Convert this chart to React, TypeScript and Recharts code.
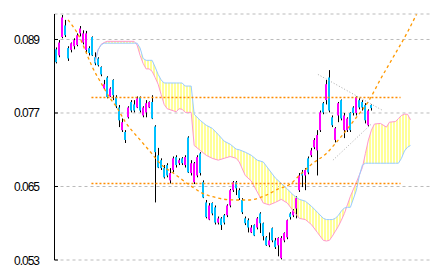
import {
  ComposedChart,
  Bar,
  Line,
  Area,
  XAxis,
  YAxis,
  CartesianGrid,
  ReferenceLine,
} from 'recharts';

// candles, one per period (price values)
const candleOpen = [
  0.0874, 0.0864, 0.0894, 0.0913, 0.0876, 0.0873, 0.0879, 0.0881, 0.09, 0.0885,
  0.0873, 0.0876, 0.0894, 0.0861, 0.0859, 0.0845, 0.081, 0.0828, 0.0797, 0.0824,
  0.0796, 0.0779, 0.0742, 0.0739, 0.0763, 0.0788, 0.0784, 0.0779, 0.0796, 0.0766,
  0.0771, 0.0779, 0.0788, 0.0748, 0.0701, 0.0693, 0.068, 0.0685, 0.066, 0.0677,
  0.0698, 0.0688, 0.0696, 0.0685, 0.073, 0.0672, 0.0657, 0.0668, 0.0704, 0.0657,
  0.0624, 0.0596, 0.0623, 0.0616, 0.0591, 0.0598, 0.0603, 0.0603, 0.0619, 0.0644,
  0.0657, 0.0644, 0.0628, 0.0598, 0.0595, 0.0575, 0.0587, 0.0583, 0.0606, 0.059,
  0.0567, 0.0554, 0.0582, 0.0562, 0.0554, 0.0533, 0.0562, 0.0567, 0.0606, 0.0603,
  0.0614, 0.0644, 0.0673, 0.0668, 0.0696, 0.0701, 0.0714, 0.0709, 0.0742, 0.0786,
  0.0791, 0.0828, 0.0763, 0.0726, 0.0766, 0.0791, 0.0742, 0.0742, 0.077, 0.0779,
  0.077, 0.0791, 0.0788, 0.0783, 0.075, 0.0783,
];
const candleClose = [
  0.0853, 0.0885, 0.0926, 0.0897, 0.0859, 0.0884, 0.0889, 0.0897, 0.0908, 0.09,
  0.09, 0.0868, 0.0864, 0.0851, 0.0848, 0.0833, 0.0817, 0.0796, 0.081, 0.0799,
  0.0781, 0.0758, 0.0755, 0.0726, 0.0779, 0.0774, 0.0774, 0.0794, 0.0774, 0.0779,
  0.0786, 0.0788, 0.0761, 0.0706, 0.0681, 0.068, 0.0665, 0.0668, 0.0672, 0.0696,
  0.0685, 0.0693, 0.0688, 0.0698, 0.0673, 0.0688, 0.0688, 0.0698, 0.0672, 0.0632,
  0.06, 0.0619, 0.0606, 0.0591, 0.0598, 0.0587, 0.0591, 0.0619, 0.0644, 0.0657,
  0.0647, 0.0631, 0.0608, 0.059, 0.0583, 0.0583, 0.057, 0.0598, 0.059, 0.0569,
  0.0554, 0.0562, 0.0562, 0.0551, 0.0566, 0.0566, 0.0574, 0.0595, 0.06, 0.0611,
  0.0631, 0.0668, 0.0668, 0.0677, 0.0673, 0.0709, 0.0726, 0.0734, 0.0771, 0.0771,
  0.0817, 0.0774, 0.075, 0.0745, 0.0786, 0.0761, 0.0766, 0.0761, 0.0742, 0.077,
  0.0796, 0.0779, 0.0779, 0.0758, 0.0774, 0.0778,
];
const candleHigh = [
  0.0877, 0.0889, 0.093, 0.0922, 0.0879, 0.0885, 0.0892, 0.09, 0.0912, 0.0905,
  0.0904, 0.0879, 0.0895, 0.0869, 0.0861, 0.0846, 0.0824, 0.083, 0.0812, 0.0825,
  0.0799, 0.0783, 0.0761, 0.0742, 0.0781, 0.0791, 0.0791, 0.0797, 0.0797, 0.0781,
  0.0791, 0.0789, 0.0799, 0.075, 0.0713, 0.0696, 0.0685, 0.0688, 0.068, 0.0699,
  0.0701, 0.0696, 0.0698, 0.0701, 0.0732, 0.0693, 0.069, 0.0701, 0.0706, 0.066,
  0.0628, 0.0623, 0.0624, 0.0619, 0.0601, 0.06, 0.0605, 0.0621, 0.0646, 0.0659,
  0.0659, 0.0647, 0.0631, 0.0601, 0.0598, 0.0587, 0.0588, 0.06, 0.0608, 0.0591,
  0.0569, 0.0575, 0.0583, 0.0566, 0.0567, 0.0569, 0.0575, 0.0596, 0.0608, 0.0613,
  0.0634, 0.0672, 0.0677, 0.068, 0.0699, 0.0713, 0.0729, 0.0742, 0.0774, 0.0788,
  0.0824, 0.084, 0.0766, 0.0747, 0.0788, 0.0792, 0.077, 0.0763, 0.0771, 0.0781,
  0.0797, 0.0794, 0.0791, 0.0786, 0.0776, 0.0784,
];
const candleLow = [
  0.0851, 0.0861, 0.0892, 0.0894, 0.0855, 0.0869, 0.0874, 0.0879, 0.0895, 0.0882,
  0.0869, 0.0864, 0.0863, 0.0848, 0.0846, 0.083, 0.0809, 0.0794, 0.0796, 0.0791,
  0.0778, 0.0747, 0.0739, 0.0721, 0.0761, 0.0771, 0.0771, 0.0778, 0.0771, 0.0763,
  0.0763, 0.0778, 0.076, 0.0624, 0.068, 0.0677, 0.0663, 0.0665, 0.0655, 0.0673,
  0.0681, 0.0685, 0.0685, 0.0681, 0.0672, 0.0668, 0.0654, 0.0665, 0.0668, 0.0631,
  0.0598, 0.0595, 0.0603, 0.0588, 0.0588, 0.0579, 0.0588, 0.06, 0.0616, 0.0641,
  0.0636, 0.0628, 0.0605, 0.0587, 0.0575, 0.0574, 0.0569, 0.058, 0.0574, 0.0562,
  0.0553, 0.0551, 0.0559, 0.0548, 0.0536, 0.0531, 0.0559, 0.0564, 0.0596, 0.06,
  0.0598, 0.0641, 0.0649, 0.0644, 0.067, 0.0698, 0.0711, 0.0668, 0.0739, 0.0768,
  0.0784, 0.0771, 0.0747, 0.0722, 0.0755, 0.0758, 0.0729, 0.0739, 0.0739, 0.0766,
  0.0766, 0.0776, 0.0774, 0.0753, 0.0748, 0.0774,
];

// cloud (leading spans), period index -> value
const cloudIdx = [
  13, 14, 15, 16, 17, 26, 27, 28, 29, 30, 31, 32, 33, 34, 35, 36, 37, 40, 41, 42,
  43, 45, 46, 48, 50, 52, 54, 56, 58, 60, 61, 63, 65, 67, 69, 71, 73, 75, 77, 79,
  81, 83, 85, 87, 89, 90, 91, 92, 93, 94, 95, 96, 97, 98, 100, 101, 102, 103, 104, 105,
  106, 108, 110, 111, 113, 114, 115, 116, 117, 118,
];
const spanA = [
  0.0853, 0.0873, 0.0881, 0.0884, 0.0884, 0.0884, 0.0884, 0.0876, 0.0859, 0.0856,
  0.0856, 0.0856, 0.0845, 0.0833, 0.0824, 0.0819, 0.0819, 0.0819, 0.0819, 0.0819,
  0.0814, 0.0814, 0.0768, 0.0758, 0.075, 0.0745, 0.0735, 0.0724, 0.0719, 0.0711,
  0.071, 0.0706, 0.0701, 0.0693, 0.069, 0.0677, 0.0664, 0.0655, 0.0646, 0.0636,
  0.0629, 0.0626, 0.0618, 0.0608, 0.0598, 0.0596, 0.0596, 0.0596, 0.0598, 0.0603,
  0.061, 0.0615, 0.0616, 0.0616, 0.0644, 0.0668, 0.0685, 0.0688, 0.0688, 0.0688,
  0.0688, 0.0688, 0.0688, 0.0688, 0.0688, 0.0688, 0.0696, 0.0708, 0.0714, 0.0717,
];
const spanB = [
  0.0853, 0.0873, 0.0882, 0.0885, 0.0887, 0.0887, 0.0881, 0.0864, 0.0851, 0.0842,
  0.0842, 0.0838, 0.0828, 0.0817, 0.08, 0.0784, 0.0777, 0.0772, 0.0777, 0.0776,
  0.0771, 0.0771, 0.0717, 0.0709, 0.0701, 0.0696, 0.0693, 0.0696, 0.0699, 0.0696,
  0.069, 0.0668, 0.0659, 0.0641, 0.0623, 0.062, 0.0624, 0.0629, 0.0623, 0.061,
  0.0598, 0.0596, 0.0588, 0.0575, 0.0562, 0.0561, 0.0562, 0.0569, 0.0577, 0.0585,
  0.0595, 0.0606, 0.062, 0.0634, 0.0657, 0.0669, 0.0681, 0.0704, 0.0726, 0.0742,
  0.0752, 0.0753, 0.0747, 0.0755, 0.0756, 0.0761, 0.0766, 0.0768, 0.0768, 0.0759,
];

// fitted curve (orange dashed)
const curveIdx = [4, 8, 10, 12, 15, 18, 20, 23, 28, 31, 35, 39, 44, 48, 54, 59, 64, 70, 74, 78, 81, 85, 90, 94, 100, 104, 108, 112, 117, 120];
const curveVal = [
  0.0922, 0.0892, 0.0869, 0.0846, 0.0819, 0.0794, 0.0781, 0.0756, 0.0726, 0.0709,
  0.0686, 0.0672, 0.0654, 0.0641, 0.0631, 0.0628, 0.0628, 0.0636, 0.0646, 0.0654,
  0.0668, 0.0686, 0.0704, 0.0726, 0.0763, 0.0789, 0.0825, 0.0859, 0.0902, 0.0931,
];

// horizontal levels (orange dotted)
const levels = [0.07953, 0.06549];
const levelFrom = 11.8;
const levelTo = 114.7;

// gray dotted trend lines: [i1, v1, i2, v2]
const trendLines = [
  [87.2, 0.0833, 108.8, 0.0774],
  [92.2, 0.0693, 105.2, 0.0753],
];

const yTicks = [0.053, 0.065, 0.077, 0.089];

const candles = candleOpen.map((o, i) => ({
  i,
  o,
  c: candleClose[i],
  h: candleHigh[i],
  l: candleLow[i],
  range: [candleLow[i], candleHigh[i]],
}));
const cloud = cloudIdx.map((i, k) => ({ i, a: spanA[k], b: spanB[k], range: [spanB[k], spanA[k]] }));
const curve = curveIdx.map((i, k) => ({ i, v: curveVal[k] }));

const Candle = (props: any) => {
  const { x, y, width, height, payload } = props;
  if (x == null || y == null) return null;
  const top = Math.min(y, y + height);
  const bot = Math.max(y, y + height);
  const span = payload.h - payload.l || 1e-9;
  const yAt = (v: number) => top + ((payload.h - v) / span) * (bot - top);
  const cx = Math.round(x + width / 2);
  const up = payload.c >= payload.o;
  const bTop = yAt(Math.max(payload.o, payload.c));
  const bBot = yAt(Math.min(payload.o, payload.c));
  return (
    <g>
      <line x1={cx + 0.5} x2={cx + 0.5} y1={top} y2={bot} stroke="#000" strokeWidth={1} />
      <rect x={cx - 1} y={bTop} width={2} height={Math.max(1, bBot - bTop)} fill={up ? '#ff00ff' : '#00c0ff'} />
    </g>
  );
};

const YTick = (props: any) => {
  const { y, payload } = props;
  return (
    <g>
      <line x1={54.5} x2={58} y1={y} y2={y} stroke="#000" />
      <text x={39} y={y} dy={4.5} textAnchor="end" fontSize={12} letterSpacing={-1} fill="#000" fontFamily="Liberation Sans, Arial, sans-serif">
        {payload.value.toFixed(3)}
      </text>
    </g>
  );
};

export default function App() {
  return (
    <div style={{ position: 'absolute', left: 0, top: 0, width: 433, height: 274, background: '#fff' }}>
      <ComposedChart width={433} height={274} data={candles} margin={{ top: 14, right: 3, bottom: 14, left: 0 }}>
        <defs>
          <pattern id="hatch" width={3} height={4} patternUnits="userSpaceOnUse">
            <rect x={0} y={0} width={2} height={4} fill="#ffff99" />
          </pattern>
        </defs>
        <CartesianGrid vertical={false} stroke="#bbbbbb" strokeDasharray="3 3" />
        <XAxis type="number" dataKey="i" domain={[-0.5, 124.5]} hide allowDataOverflow />
        <YAxis
          type="number"
          domain={[0.053, 0.093163]}
          ticks={yTicks}
          width={54.5}
          axisLine={{ stroke: '#000' }}
          tickLine={false}
          tick={<YTick />}
          allowDataOverflow
        />
        <Area data={cloud} dataKey="range" type="linear" stroke="none" fill="url(#hatch)" fillOpacity={1} isAnimationActive={false} />
        <Line data={cloud} dataKey="b" type="linear" stroke="#ff99cc" strokeWidth={1} dot={false} isAnimationActive={false} />
        <Line data={cloud} dataKey="a" type="linear" stroke="#99ccff" strokeWidth={1} dot={false} isAnimationActive={false} />
        <Line data={curve} dataKey="v" type="monotone" stroke="#ff9900" strokeWidth={1.3} strokeDasharray="3 3" dot={false} isAnimationActive={false} />
        <Bar dataKey="range" barSize={3} shape={(p: any) => <Candle {...p} />} isAnimationActive={false} />
        {levels.map((v) => (
          <ReferenceLine
            key={v}
            segment={[{ x: levelFrom, y: v }, { x: levelTo, y: v }]}
            stroke="#ff8c00"
            strokeOpacity={1}
            strokeWidth={1.5}
            strokeDasharray="2 2"
          />
        ))}
        {trendLines.map((t, k) => (
          <ReferenceLine
            key={k}
            segment={[{ x: t[0], y: t[1] }, { x: t[2], y: t[3] }]}
            stroke="#aaaaaa"
            strokeWidth={1}
            strokeDasharray="1 2"
          />
        ))}
      </ComposedChart>
    </div>
  );
}
